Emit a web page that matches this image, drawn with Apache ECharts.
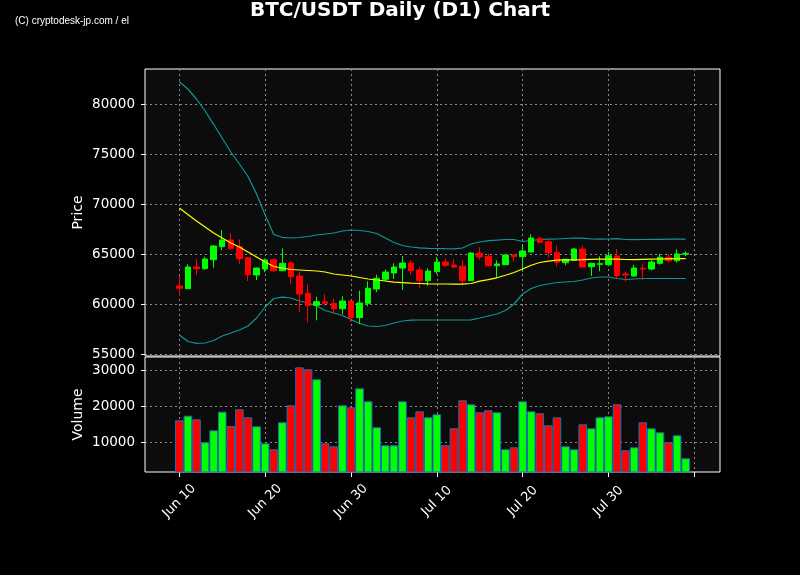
<!DOCTYPE html>
<html>
<head>
<meta charset="utf-8">
<script src="https://cdn.jsdelivr.net/npm/echarts@6/dist/echarts.min.js"></script>
<style>
html, body { margin: 0; padding: 0; background: #000; }
#chart { width: 800px; height: 575px; }
</style>
</head>
<body>
<div id="chart"></div>
<script>
// daily candles, Jun 10 .. Aug 8
var opens  = [61800,61530,63700,63530,64430,65730,66400,65730,64630,62900,
              63500,64430,63330,64100,62800,61070,59870,60230,60070,59530,
              60300,58630,60070,61500,62470,63100,63600,64100,63400,62330,
              63230,64200,63900,63770,62330,65100,64770,63830,63930,64900,
              64730,65200,66570,66230,65170,64130,64370,65500,63730,63970,
              63930,64800,63000,62800,63570,63500,64070,64670,64330,64970];
var closes = [61570,63700,63530,64500,65800,66400,65570,64530,62930,63600,
              64400,63330,64070,62730,61000,59850,60230,60070,59530,60300,
              58630,60100,61570,62570,63200,63700,64100,63330,62330,63300,
              64200,63870,63700,62330,65100,64700,63830,64000,64900,64730,
              65300,66600,66170,65130,64170,64470,65500,63700,64070,64030,
              64830,62830,62900,63600,63500,64200,64670,64330,65000,65070];
var lows   = [60800,61530,62900,63430,63630,65370,65400,63970,62300,62400,
              63170,63230,63270,61970,59170,58170,58370,59830,59000,58970,
              58200,58000,59770,61200,62270,62500,61400,62900,61570,61830,
              63000,63730,63570,61970,62330,64430,63730,62600,63900,64230,
              63230,65170,66130,64630,63770,63870,64330,63670,62800,63270,
              63800,62470,62230,62730,62370,63370,63930,64130,64130,64800];
var highs  = [62830,63970,64470,64730,65900,67400,67070,66470,64670,63630,
              64530,64530,65570,64300,63230,61970,60730,60970,60530,60770,
              60370,61330,62270,62930,63470,64070,64800,64400,63730,63570,
              64700,64570,64470,64430,65170,65670,65030,64370,64930,64930,
              65970,66970,66770,66370,65830,64530,65570,65830,64130,64770,
              65200,65500,63200,63900,64030,64400,65000,65000,65470,65270];
var volumes = [16110,17390,16390,10000,13330,18500,14530,19170,16940,14440,
               9720,8060,15560,20280,30830,30280,27500,9720,8890,20280,
               19720,25000,21390,14170,9170,9170,21390,16940,18610,16940,
               17780,9170,13890,21670,20560,18330,18890,18330,8060,8610,
               21390,18610,18060,14720,16940,8890,8060,15000,13890,16940,
               17220,20560,7780,8610,15560,13890,12780,10000,11940,5560];
// Bollinger bands (20, 2)
var bbUpper = [82230,81500,80500,79300,77970,76570,75200,74000,72750,71000,
               68900,66950,66670,66600,66650,66750,66900,67000,67100,67300,
               67400,67350,67250,67050,66600,66150,65850,65700,65620,65570,
               65550,65530,65520,65600,66000,66200,66330,66380,66450,66450,
               66250,66350,66450,66480,66500,66550,66600,66580,66500,66480,
               66500,66530,66450,66430,66450,66460,66470,66480,66480,66480];
var bbMid   = [69600,68950,68300,67700,67090,66600,66100,65700,65200,64700,
               64200,63750,63600,63450,63400,63350,63300,63200,63000,62900,
               62800,62650,62500,62400,62300,62180,62130,62080,62050,62020,
               62000,62000,61990,61980,62050,62280,62430,62620,62880,63150,
               63500,63880,64150,64280,64380,64420,64420,64430,64460,64480,
               64500,64480,64450,64440,64460,64480,64500,64520,64530,64540];
var bbLower = [56900,56250,56070,56100,56350,56800,57100,57400,57800,58600,
               59700,60550,60680,60600,60300,60100,59800,59350,59100,58850,
               58450,58050,57800,57750,57850,58100,58300,58380,58400,58400,
               58400,58400,58400,58400,58420,58600,58800,59000,59350,60000,
               61000,61550,61850,62000,62150,62200,62250,62400,62600,62700,
               62700,62550,62450,62500,62550,62550,62550,62550,62550,62550];

var tickDays   = [0, 10, 20, 30, 40, 50, 60];
var tickLabels = ['Jun 10', 'Jun 20', 'Jun 30', 'Jul 10', 'Jul 20', 'Jul 30', ''];
var priceTicks  = [55000, 60000, 65000, 70000, 75000, 80000];
var volumeTicks = [10000, 20000, 30000];

var padLeft = 4, padRight = 4;
var UP = '#00ff00', DOWN = '#ff0000';
var FONT = 'DejaVu Sans';

// category axis with empty slots on both sides, like the plot margins
var cats = [], candles = [], volBars = [], up = [], mid = [], low = [];
for (var k = -padLeft; k < opens.length + padRight; k++) {
    cats.push('d' + k);
    if (k >= 0 && k < opens.length) {
        candles.push([opens[k], closes[k], lows[k], highs[k]]);
        volBars.push({
            value: volumes[k],
            itemStyle: { color: closes[k] >= opens[k] ? UP : DOWN }
        });
        up.push(bbUpper[k]);
        mid.push(bbMid[k]);
        low.push(bbLower[k]);
    } else {
        candles.push('-');
        volBars.push('-');
        up.push('-');
        mid.push('-');
        low.push('-');
    }
}

var isTick = function(index){
    return tickDays.indexOf(index - padLeft) >= 0;
};
var plainNum = function(v){ return String(v); };

var gridLine = { show: true, lineStyle: { color: '#8a8a8a', type: [2, 3], width: 1 } };
var vGridLine = { show: true, interval: function(index){ return isTick(index); },
                  lineStyle: gridLine.lineStyle };

var chart = echarts.init(document.getElementById('chart'));
var option = {
    backgroundColor: '#000',
    animation: false,
    title: {
        text: 'BTC/USDT Daily (D1) Chart',
        left: 'center',
        top: 1,
        padding: 0,
        textStyle: { color: '#fff', fontSize: 20, fontWeight: 'bold', fontFamily: FONT }
    },
    graphic: [{
        type: 'text',
        left: 15,
        top: 16,
        style: { text: '(C) cryptodesk-jp.com / el', fill: '#fff', font: '10px "Liberation Sans"' }
    }],
    grid: [
        { left: 145, top: 69, width: 575, height: 287, show: true, backgroundColor: '#0c0c0c',
          borderColor: '#fff', borderWidth: 1, outerBoundsMode: 'none' },
        { left: 145, top: 357, width: 575, height: 115, show: true, backgroundColor: '#0c0c0c',
          borderColor: '#fff', borderWidth: 1, outerBoundsMode: 'none' }
    ],
    xAxis: [
        {
            type: 'category', gridIndex: 0, data: cats, boundaryGap: false,
            axisLine: { show: false }, axisTick: { show: false }, axisLabel: { show: false },
            splitLine: vGridLine
        },
        {
            type: 'category', gridIndex: 1, data: cats, boundaryGap: false,
            axisLine: { show: false },
            axisTick: { show: true, interval: function(index){ return isTick(index); },
                        length: 5, lineStyle: { color: '#fff' } },
            axisLabel: {
                interval: function(index){ return isTick(index); },
                formatter: function(value, index){
                    var p = tickDays.indexOf(index - padLeft);
                    return p >= 0 ? tickLabels[p] : '';
                },
                rotate: 45, align: 'center', verticalAlign: 'middle', margin: 29,
                color: '#fff', fontSize: 13, fontFamily: FONT
            },
            splitLine: vGridLine
        }
    ],
    yAxis: [
        {
            type: 'value', gridIndex: 0, min: 54800, max: 83500,
            name: 'Price', nameLocation: 'middle', nameGap: 60, nameMoveOverlap: false,
            nameTextStyle: { color: '#fff', fontSize: 14, fontFamily: FONT },
            axisLine: { show: false },
            axisTick: { show: true, customValues: priceTicks, length: 4, lineStyle: { color: '#fff' } },
            axisLabel: { customValues: priceTicks, formatter: plainNum, color: '#fff',
                         fontSize: 13.5, fontFamily: FONT, margin: 10 },
            splitLine: gridLine
        },
        {
            type: 'value', gridIndex: 1, min: 1750, max: 33700,
            name: 'Volume', nameLocation: 'middle', nameGap: 60, nameMoveOverlap: false,
            nameTextStyle: { color: '#fff', fontSize: 14, fontFamily: FONT },
            axisLine: { show: false },
            axisTick: { show: true, customValues: volumeTicks, length: 4, lineStyle: { color: '#fff' } },
            axisLabel: { customValues: volumeTicks, formatter: plainNum, color: '#fff',
                         fontSize: 13.5, fontFamily: FONT, margin: 10 },
            splitLine: gridLine
        }
    ],
    series: [
        {
            name: 'BB upper', type: 'line', xAxisIndex: 0, yAxisIndex: 0, data: up,
            symbol: 'none', lineStyle: { color: '#109595', width: 1.2 }, z: 2
        },
        {
            name: 'BB lower', type: 'line', xAxisIndex: 0, yAxisIndex: 0, data: low,
            symbol: 'none', lineStyle: { color: '#109595', width: 1.2 }, z: 2
        },
        {
            name: 'Candles', type: 'candlestick', xAxisIndex: 0, yAxisIndex: 0, data: candles,
            barWidth: '70%',
            itemStyle: { color: UP, color0: DOWN, borderColor: UP, borderColor0: DOWN, borderWidth: 1 },
            z: 3
        },
        {
            name: 'BB mid', type: 'line', xAxisIndex: 0, yAxisIndex: 0, data: mid,
            symbol: 'none', lineStyle: { color: '#ffff00', width: 1.2 }, z: 4
        },
        {
            name: 'Volume', type: 'bar', xAxisIndex: 1, yAxisIndex: 1, data: volBars,
            barWidth: '100%',
            itemStyle: { borderColor: '#1f6fb0', borderWidth: 1 }
        }
    ]
};
chart.setOption(option);
</script>
</body>
</html>
